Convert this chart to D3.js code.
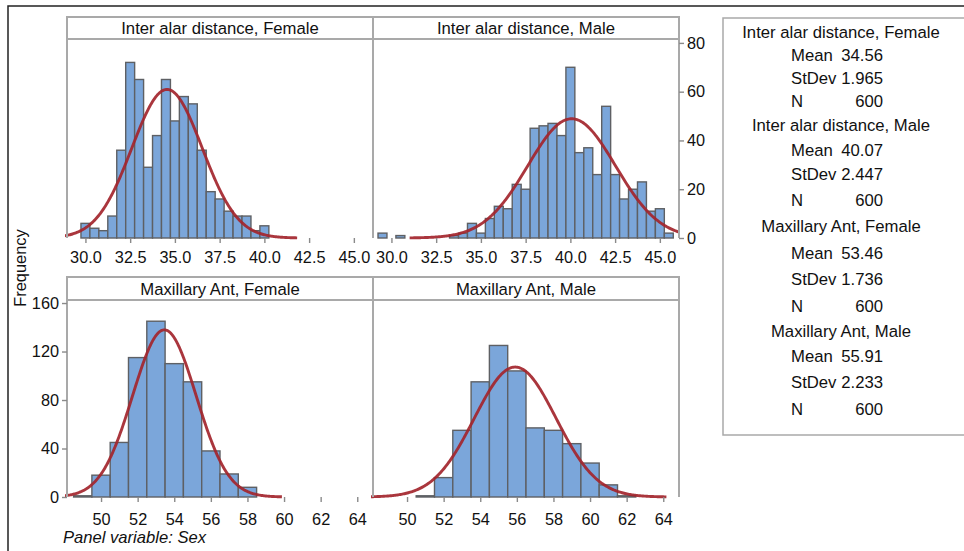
<!DOCTYPE html>
<html>
<head>
<meta charset="utf-8">
<script src="https://cdnjs.cloudflare.com/ajax/libs/d3/7.8.5/d3.min.js"></script>
<style>
body { margin: 0; background: #fff; }
svg { display: block; font-family: "Liberation Sans", Arial, sans-serif; }
</style>
</head>
<body>
<script>
// bin midpoints and counts
var interAlarBins = [29.5, 30.0, 30.5, 31.0, 31.5, 32.0, 32.5, 33.0, 33.5, 34.0, 34.5, 35.0, 35.5, 36.0, 36.5, 37.0, 37.5,
	38.0, 38.5, 39.0, 39.5, 40.0, 40.5, 41.0, 41.5, 42.0, 42.5, 43.0, 43.5, 44.0, 44.5, 45.0, 45.5];
var iaFemaleCounts = [0, 6, 4, 3, 9, 36, 72, 65, 29, 42, 65, 48, 58, 55, 36, 19, 16,
	11, 9, 9, 3, 5, 0, 0, 0, 0, 0, 0, 0, 0, 0, 0, 0];
var iaMaleCounts = [2, 0, 1, 0, 0, 0, 0, 0, 1, 2, 6, 2, 8, 13, 12, 22, 20,
	45, 46, 47, 42, 70, 35, 37, 26, 54, 26, 16, 20, 23, 11, 12, 2];

var maxillaryBins = [49, 50, 51, 52, 53, 54, 55, 56, 57, 58, 59, 60, 61, 62, 63, 64];
var maxFemaleCounts = [1, 18, 45, 115, 145, 110, 95, 38, 19, 8, 0, 0, 0, 0, 0, 0];
var maxMaleCounts = [0, 0, 1, 16, 55, 95, 125, 104, 57, 55, 44, 28, 10, 1, 0, 0];

var panelTitles = ["Inter alar distance, Female", "Inter alar distance, Male", "Maxillary Ant, Female", "Maxillary Ant, Male"];
var means = [34.56, 40.07, 53.46, 55.91];
var stdevs = [1.965, 2.447, 1.736, 2.233];
var ns = [600, 600, 600, 600];

var iaTicks = [30.0, 32.5, 35.0, 37.5, 40.0, 42.5, 45.0];
var maxTicks = [50, 52, 54, 56, 58, 60, 62, 64];
var iaFreqTicks = [0, 20, 40, 60, 80];
var maxFreqTicks = [0, 40, 80, 120, 160];

var width = 964, height = 551;
var frameColor = "#a9a9a9";
var titleSize = "16.7px", tickSize = "16.3px";

var svg = d3.select("body").append("svg")
	.attr("width", width)
	.attr("height", height);

// outer border (runs off right and bottom)
svg.append("rect")
	.attr("x", 8).attr("y", 6)
	.attr("width", 990).attr("height", 570)
	.style("fill", "none").style("stroke", "#222").style("stroke-width", 1.5);

var cols = [{x0: 67, x1: 373}, {x0: 373, x1: 679}];

var rows = [
	{hTop: 17, hBot: 39, base: 238, yTop: 81.6, xDom: [28.97, 46.07], bins: interAlarBins, binW: 0.5,
		counts: [iaFemaleCounts, iaMaleCounts], xTicks: iaTicks, fmt: d3.format(".1f"), yTicks: iaFreqTicks,
		side: "right", labelBase: 263},
	{hTop: 277, hBot: 300, base: 497, yTop: 162.5, xDom: [48.14, 64.86], bins: maxillaryBins, binW: 1,
		counts: [maxFemaleCounts, maxMaleCounts], xTicks: maxTicks, fmt: d3.format("d"), yTicks: maxFreqTicks,
		side: "left", labelBase: 525}
];

function normalPdf(x, m, s){
	return Math.exp(-0.5 * Math.pow((x - m) / s, 2)) / (s * Math.sqrt(2 * Math.PI));
}

function drawPanel(r, c){
	var row = rows[r], col = cols[c];
	var i = r * 2 + c;

	var x = d3.scaleLinear().domain(row.xDom).range([col.x0, col.x1]);
	var y = d3.scaleLinear().domain([0, row.yTop]).range([row.base, row.hBot]);

	var g = svg.append("g").attr("class", "panel");

	svg.append("clipPath").attr("id", "clip" + i)
		.append("rect")
		.attr("x", col.x0 - 2).attr("y", row.hBot)
		.attr("width", col.x1 - col.x0 + 2).attr("height", row.base - row.hBot + 3);

	var binData = row.bins.map(function(b, k){ return {mid: b, n: row.counts[c][k]}; });

	g.selectAll(".bar")
		.data(binData)
		.join("rect")
		.attr("class", "bar")
		.attr("x", function(d){ return x(d.mid - row.binW / 2); })
		.attr("width", function(d){ return x(d.mid + row.binW / 2) - x(d.mid - row.binW / 2); })
		.attr("y", function(d){ return y(d.n); })
		.attr("height", function(d){ return row.base - y(d.n); })
		.style("fill", "#7ba6da")
		.style("stroke", "#5e6064")
		.style("stroke-width", 1.4);

	// fitted normal curve from mean / stdev / N
	var lo = means[i] - 3.7 * stdevs[i], hi = means[i] + 3.7 * stdevs[i];
	var pts = d3.range(0, 301).map(function(k){
		var xv = lo + (hi - lo) * k / 300;
		return [xv, ns[i] * row.binW * normalPdf(xv, means[i], stdevs[i])];
	});
	g.append("path")
		.attr("clip-path", "url(#clip" + i + ")")
		.attr("d", d3.line().x(function(d){ return x(d[0]); }).y(function(d){ return y(d[1]); })(pts))
		.style("fill", "none")
		.style("stroke", "#a3252c")
		.style("stroke-width", 2.9)
		.style("opacity", 0.92);

	// frame: side lines + header strip
	g.append("line").attr("x1", col.x0).attr("x2", col.x0).attr("y1", row.hTop).attr("y2", row.base)
		.style("stroke", frameColor).style("stroke-width", 2);
	g.append("line").attr("x1", col.x1).attr("x2", col.x1).attr("y1", row.hTop).attr("y2", row.base)
		.style("stroke", frameColor).style("stroke-width", 2);
	g.append("rect")
		.attr("x", col.x0).attr("y", row.hTop)
		.attr("width", col.x1 - col.x0).attr("height", row.hBot - row.hTop)
		.style("fill", "#fff").style("stroke", frameColor).style("stroke-width", 2);
	g.append("text")
		.attr("x", (col.x0 + col.x1) / 2).attr("y", (row.hTop + row.hBot) / 2 + 6)
		.attr("text-anchor", "middle")
		.style("font-size", titleSize).style("fill", "#111")
		.text(panelTitles[i]);

	// x axis
	var xAxis = g.append("g")
		.attr("transform", `translate(0, ${row.base})`)
		.call(d3.axisBottom(x).tickValues(row.xTicks).tickFormat(row.fmt).tickSize(5).tickSizeOuter(0));
	xAxis.select(".domain").remove();
	xAxis.selectAll(".tick line").style("stroke", "#8a8a8a").style("stroke-width", 1.4);
	xAxis.selectAll(".tick text")
		.attr("y", row.labelBase - row.base).attr("dy", null)
		.style("font-size", tickSize).style("fill", "#111")
		.style("font-family", "'Liberation Sans', Arial, sans-serif");

	// y axis on one side only
	if(row.side == "right" && c == 1){
		var yAxisR = g.append("g").attr("transform", `translate(${col.x1}, 0)`)
			.call(d3.axisRight(y).tickValues(row.yTicks).tickSize(5).tickPadding(3));
		styleY(yAxisR);
	}
	if(row.side == "left" && c == 0){
		var yAxisL = g.append("g").attr("transform", `translate(${col.x0}, 0)`)
			.call(d3.axisLeft(y).tickValues(row.yTicks).tickSize(5).tickPadding(3));
		styleY(yAxisL);
	}
}

function styleY(ax){
	ax.select(".domain").remove();
	ax.selectAll(".tick line").style("stroke", "#8a8a8a").style("stroke-width", 1.4);
	ax.selectAll(".tick text")
		.style("font-size", tickSize).style("fill", "#111")
		.style("font-family", "'Liberation Sans', Arial, sans-serif");
}

for(var r = 0; r < 2; r++){
	for(var c = 0; c < 2; c++){
		drawPanel(r, c);
	}
}

svg.append("text")
	.attr("transform", "translate(26, 268) rotate(-90)")
	.attr("text-anchor", "middle")
	.style("font-size", "16.4px").style("fill", "#111")
	.text("Frequency");

svg.append("text")
	.attr("x", 63).attr("y", 543)
	.style("font-size", "16.6px").style("font-style", "italic").style("fill", "#111")
	.text("Panel variable: Sex");

// stats box
svg.append("rect")
	.attr("x", 723).attr("y", 18)
	.attr("width", 260).attr("height", 417)
	.style("fill", "#fff").style("stroke", frameColor).style("stroke-width", 1.5);

var legendLines = [];
panelTitles.forEach(function(t, i){
	legendLines.push({title: t});
	legendLines.push({label: "Mean", value: d3.format(".2f")(means[i])});
	legendLines.push({label: "StDev", value: d3.format(".3f")(stdevs[i])});
	legendLines.push({label: "N", value: String(ns[i])});
});

// text line centres in the stats box (uneven, as in the source)
var legendY = [32, 55, 78, 101, 125, 150, 174, 200, 226, 253, 279, 306, 331, 356, 382, 409];

var leg = svg.append("g").style("font-size", titleSize).style("fill", "#111");
legendLines.forEach(function(d, k){
	var yy = legendY[k] + 6;
	if(d.title){
		leg.append("text").attr("x", 841).attr("y", yy).attr("text-anchor", "middle").text(d.title);
	}
	else{
		leg.append("text").attr("x", 791).attr("y", yy).text(d.label);
		leg.append("text").attr("x", 883).attr("y", yy).attr("text-anchor", "end").text(d.value);
	}
});
</script>
</body>
</html>
